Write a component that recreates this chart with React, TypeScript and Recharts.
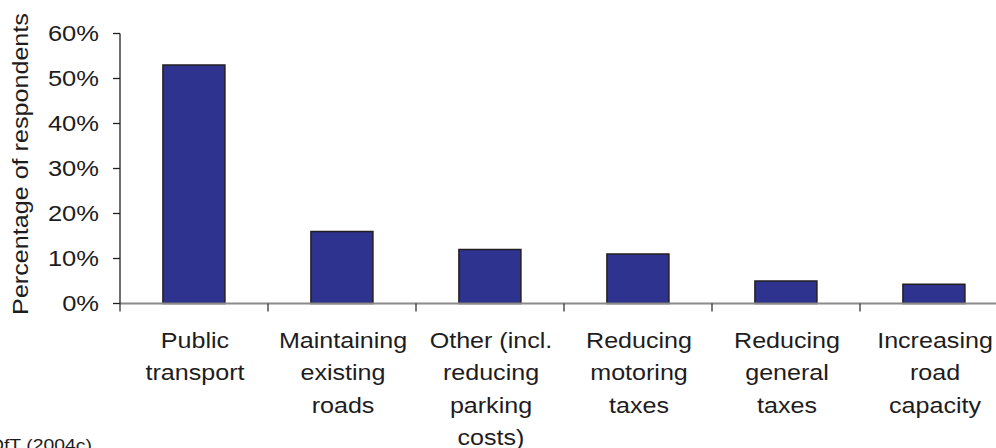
import React from "react";
import { BarChart, Bar, XAxis, YAxis } from "recharts";

const categories = [
  "Public transport",
  "Maintaining existing roads",
  "Other (incl. reducing parking costs)",
  "Reducing motoring taxes",
  "Reducing general taxes",
  "Increasing road capacity",
];
const categoryLines = [
  ["Public", "transport"],
  ["Maintaining", "existing", "roads"],
  ["Other (incl.", "reducing", "parking", "costs)"],
  ["Reducing", "motoring", "taxes"],
  ["Reducing", "general", "taxes"],
  ["Increasing", "road", "capacity"],
];
const values = [53, 16, 12, 11, 5, 4.3];
const yTicks = [0, 10, 20, 30, 40, 50, 60];
const yLabel = "Percentage of respondents";
const sourceText = "DfT (2004c)";

const data = categories.map((c, i) => ({ name: c, value: values[i] }));

const FONT = "'Liberation Sans', Arial, Helvetica, sans-serif";
const TEXT = "#1e1c1d";
const SX = 1.14;

const YTick = (props: any) => {
  const { x, y, payload } = props;
  return (
    <g transform={`translate(${x},${y + 7.5}) scale(1.16,1)`}>
      <text
        x={0}
        y={0}
        textAnchor="end"
        fill={TEXT}
        style={{ fontFamily: FONT, fontSize: "22px" }}
      >
        {`${payload.value}%`}
      </text>
    </g>
  );
};

const XTick = (props: any) => {
  const { x, y, index, width } = props;
  const lines = categoryLines[index] || [];
  const band = (width || 888) / categories.length;
  const left = x - band / 2;
  const right = x + band / 2;
  return (
    <g>
      <line x1={left} x2={left} y1={y} y2={y + 8} stroke="#333" strokeWidth={1.3} />
      {index === categories.length - 1 && (
        <line x1={right} x2={right} y1={y} y2={y + 8} stroke="#333" strokeWidth={1.3} />
      )}
      <g transform={`translate(${x + 1},${y + 44.5}) scale(${SX},1)`}>
        <text textAnchor="middle" fontFamily={FONT} fontSize={22} fill={TEXT}>
          {lines.map((l, i) => (
            <tspan key={i} x={0} y={i * 32.5}>
              {l}
            </tspan>
          ))}
        </text>
      </g>
    </g>
  );
};

const YLabel = () => (
  <g transform={`translate(28,164) rotate(-90) scale(1.17,1)`}>
    <text textAnchor="middle" fontFamily={FONT} fontSize={21.5} fill={TEXT}>
      {yLabel}
    </text>
  </g>
);

const SourceLabel = () => (
  <g transform={`translate(-10,451) scale(${SX},1)`}>
    <text textAnchor="start" fontFamily={FONT} fontSize={17} fill={TEXT}>
      {sourceText}
    </text>
  </g>
);

export default function App() {
  return (
    <div
      style={{
        position: "absolute",
        left: 0,
        top: 0,
        width: 996,
        height: 448,
        overflow: "hidden",
        background: "#fff",
      }}
    >
      <BarChart
        width={1008}
        height={448}
        data={data}
        margin={{ top: 33.5, right: 0, bottom: 0, left: 0 }}
        barCategoryGap="29%"
      >
        <XAxis
          dataKey="name"
          type="category"
          height={144.5}
          axisLine={{ stroke: "#8a8a8a", strokeWidth: 2 }}
          tickLine={false}
          tickSize={0}
          tickMargin={0}
          interval={0}
          tick={<XTick />}
          label={{ content: () => <SourceLabel /> }}
        />
        <YAxis
          width={120}
          domain={[0, 60]}
          ticks={yTicks}
          interval={0}
          tickSize={7}
          tickMargin={14}
          axisLine={{ stroke: "#231f20", strokeWidth: 1.3 }}
          tickLine={{ stroke: "#231f20", strokeWidth: 1.3 }}
          tick={<YTick />}
          label={{ content: () => <YLabel /> }}
        />
        <Bar
          dataKey="value"
          fill="#2f3390"
          stroke="#231f20"
          strokeWidth={1.5}
          isAnimationActive={false}
        />
      </BarChart>
    </div>
  );
}
